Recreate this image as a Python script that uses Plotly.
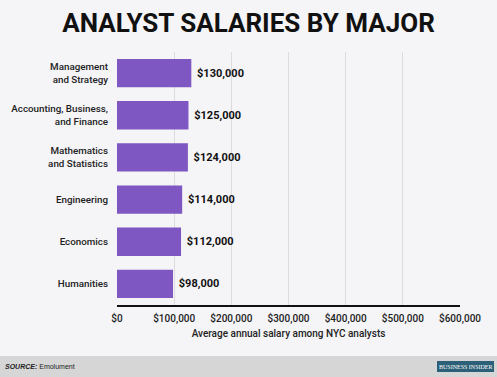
import plotly.graph_objects as go

majors = ["Management<br>and Strategy", "Accounting, Business,<br>and Finance",
          "Mathematics<br>and Statistics", "Engineering", "Economics", "Humanities"]
salaries = [130000, 125000, 124000, 114000, 112000, 98000]
tick_vals = [0, 100000, 200000, 300000, 400000, 500000, 600000]
tick_text = ["$0", "$100,000", "$200,000", "$300,000", "$400,000", "$500,000", "$600,000"]

W, H = 497, 377
L, R, T, B = 117, 37, 52, 72
pw, ph = W - L - R, H - T - B

def px(x):
    return (x - L) / pw

def py(y):
    return (H - B - y) / ph

fig = go.Figure(go.Bar(
    x=salaries, y=majors, orientation="h",
    marker=dict(color="#7e57c2", line=dict(width=0)),
    text=[f"${v:,}" for v in salaries], textposition="outside",
    textfont=dict(family="Roboto", size=11, color="#111111"),
    cliponaxis=False, width=0.67,
))
fig.update_traces(texttemplate="&nbsp;<b>%{text}</b>")

fig.update_layout(
    width=W, height=H, margin=dict(l=L, r=R, t=T, b=B),
    paper_bgcolor="#f5f4f7", plot_bgcolor="#f5f4f7",
    showlegend=False,
    title=dict(text="<b>ANALYST SALARIES BY MAJOR</b>", x=0.5, xanchor="center",
               y=1 - 23 / H, yanchor="middle",
               font=dict(family="Roboto", size=26, color="#111111")),
    xaxis=dict(range=[0, 600000], tickvals=tick_vals, ticktext=tick_text,
               showgrid=True, gridcolor="#dcdbe0", gridwidth=1,
               zeroline=False, showline=True, linecolor="#111111", linewidth=2,
               ticks="", ticklabelstandoff=3,
               tickfont=dict(family="Roboto", size=10, color="#222222", weight=500),
               title=dict(text="Average annual salary among NYC analysts",
                          font=dict(family="Roboto", size=10, color="#222222", weight=500),
                          standoff=6)),
    yaxis=dict(autorange="reversed", showgrid=False, zeroline=False, showline=False,
               ticks="", ticklabelstandoff=8,
               tickfont=dict(family="Roboto", size=9.8, color="#222222", weight=500)),
    shapes=[
        dict(type="rect", xref="paper", yref="paper", x0=px(0), x1=px(W),
             y0=py(356), y1=py(H + 2), fillcolor="#d6d6d6", line=dict(width=0), layer="below"),
        dict(type="rect", xref="paper", yref="paper", x0=px(437), x1=px(494),
             y0=py(361), y1=py(372), fillcolor="#2c5f78", line=dict(width=0)),
    ],
    annotations=[
        dict(text="<b><i>SOURCE:</i></b> Emolument", xref="paper", yref="paper",
             x=px(3), y=py(366.5), xanchor="left", yanchor="middle", showarrow=False,
             font=dict(family="Arial", size=7, color="#222222")),
        dict(text="BUSINESS INSIDER", xref="paper", yref="paper",
             x=px(465.5), y=py(366.5), xanchor="center", yanchor="middle", showarrow=False,
             font=dict(family="Liberation Serif", size=6, color="#ffffff")),
    ],
)

fig.write_html("out.html", config={"displayModeBar": False},
               post_script="document.body.style.margin='0';document.body.style.padding='0';")
